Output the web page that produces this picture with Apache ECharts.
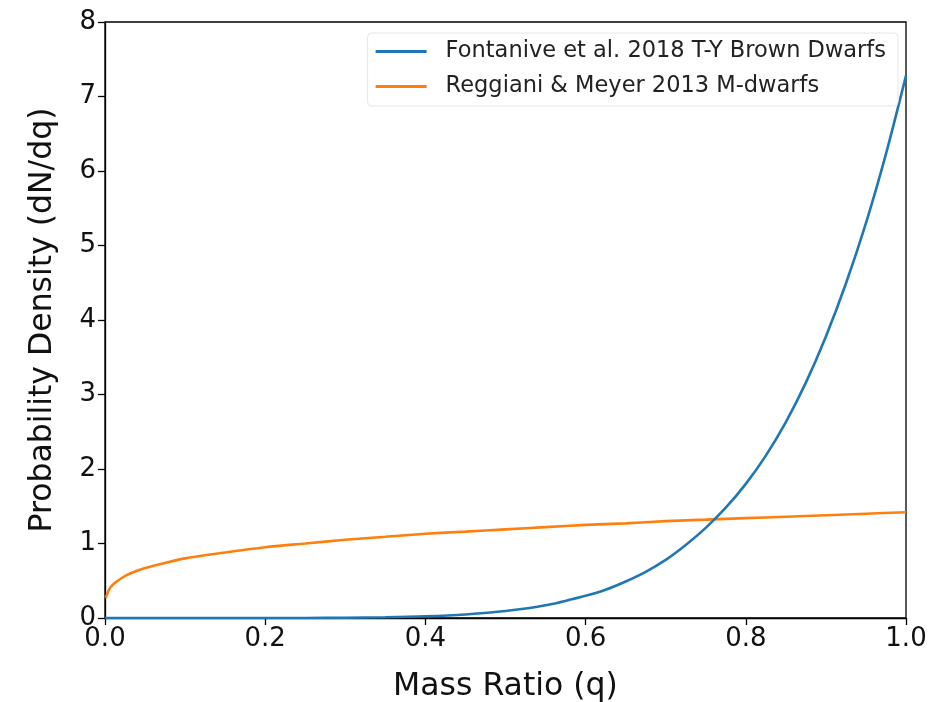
<!DOCTYPE html>
<html>
<head>
<meta charset="utf-8">
<script src="https://cdn.jsdelivr.net/npm/echarts@6/dist/echarts.min.js"></script>
<style>html,body{margin:0;padding:0;background:#fff}#c{width:946px;height:702px}</style>
</head>
<body>
<div id="c"></div>
<script>
const seriesNames = ["Fontanive et al. 2018 T-Y Brown Dwarfs", "Reggiani & Meyer 2013 M-dwarfs"];
const xTicks = [0.0, 0.2, 0.4, 0.6, 0.8, 1.0];
const yTicks = [0, 1, 2, 3, 4, 5, 6, 7, 8];

const qBD = [0, 0.1, 0.2, 0.25, 0.3, 0.35, 0.4, 0.45, 0.5, 0.55, 0.6, 0.625, 0.65, 0.675, 0.7, 0.725, 0.75, 0.775, 0.8, 0.825, 0.85, 0.875, 0.9, 0.925, 0.95, 0.975, 1.0];
const densBD = [0, 0, 0.0003, 0.001, 0.004, 0.01, 0.023, 0.048, 0.093, 0.17, 0.3, 0.38, 0.49, 0.62, 0.78, 0.98, 1.21, 1.48, 1.8, 2.18, 2.63, 3.16, 3.78, 4.49, 5.3, 6.23, 7.28];

const qMD = [0.001, 0.005, 0.01, 0.02, 0.03, 0.05, 0.075, 0.1, 0.15, 0.2, 0.25, 0.3, 0.35, 0.4, 0.45, 0.5, 0.55, 0.6, 0.65, 0.7, 0.75, 0.8, 0.85, 0.9, 0.95, 1.0];
const densMD = [0.27, 0.38, 0.45, 0.53, 0.59, 0.67, 0.74, 0.8, 0.88, 0.95, 1.0, 1.05, 1.09, 1.13, 1.16, 1.19, 1.22, 1.25, 1.27, 1.3, 1.32, 1.34, 1.36, 1.38, 1.4, 1.42];

const pairs = (xs, ys) => xs.map((x, i) => [x, ys[i]]);
const font = 'DejaVu Sans';

const chart = echarts.init(document.getElementById('c'), null, {renderer: 'canvas'});
chart.setOption({
  animation: false,
  backgroundColor: '#fff',
  textStyle: {fontFamily: font},
  grid: {left: 105, right: 40, top: 22, bottom: 84, outerBoundsMode: 'none', containLabel: false,
         show: true, borderColor: '#000', borderWidth: 1.3, backgroundColor: 'transparent'},
  legend: {
    orient: 'vertical',
    right: 48, top: 33,
    icon: 'rect',
    itemWidth: 51, itemHeight: 3,
    itemGap: 12,
    backgroundColor: 'rgba(255,255,255,0.8)',
    borderColor: '#e6e6e6', borderWidth: 1, borderRadius: 4,
    padding: [7, 12, 8, 8],
    textStyle: {fontFamily: font, fontSize: 22.5, lineHeight: 22, color: '#222', padding: [0, 0, 0, 14]},
    data: seriesNames
  },
  xAxis: {
    type: 'value', min: xTicks[0], max: xTicks[xTicks.length - 1], interval: 0.2,
    name: 'Mass Ratio (q)', nameLocation: 'middle', nameGap: 53,
    nameTextStyle: {fontFamily: font, fontSize: 31.5, color: '#111'},
    axisLine: {show: true, onZero: false, lineStyle: {color: '#000', width: 1.3}},
    axisTick: {show: true, inside: false, length: 7, lineStyle: {color: '#000', width: 1.3}},
    axisLabel: {fontFamily: font, fontSize: 26, color: '#111', margin: 8, formatter: v => v.toFixed(1)},
    splitLine: {show: false}
  },
  yAxis: {
    type: 'value', min: yTicks[0], max: yTicks[yTicks.length - 1], interval: 1,
    name: 'Probability Density (dN/dq)', nameLocation: 'middle', nameGap: 46,
    nameTextStyle: {fontFamily: font, fontSize: 31.5, color: '#111'},
    axisLine: {show: true, lineStyle: {color: '#000', width: 1.3}},
    axisTick: {show: true, inside: false, length: 7, lineStyle: {color: '#000', width: 1.3}},
    axisLabel: {fontFamily: font, fontSize: 26, color: '#111', margin: 9},
    splitLine: {show: false}
  },
  series: [
    {name: seriesNames[0], type: 'line', data: pairs(qBD, densBD), smooth: 0.3, showSymbol: false, symbol: 'none',
     lineStyle: {color: '#1f77b4', width: 2.6}, itemStyle: {color: '#1f77b4'}, z: 3},
    {name: seriesNames[1], type: 'line', data: pairs(qMD, densMD), smooth: 0.3, showSymbol: false, symbol: 'none',
     lineStyle: {color: '#ff7f0e', width: 2.6}, itemStyle: {color: '#ff7f0e'}, z: 2}
  ]
});
</script>
</body>
</html>
